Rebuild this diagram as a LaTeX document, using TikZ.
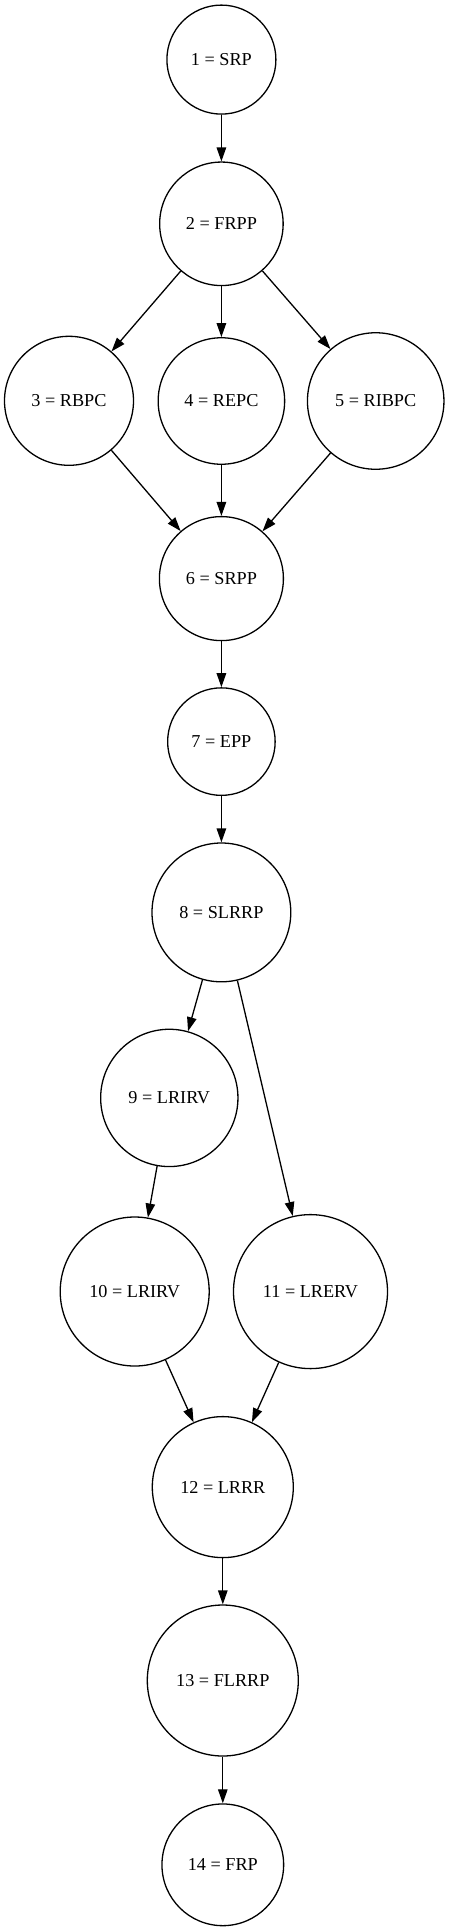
\documentclass[tikz,border=0pt]{standalone}
\usepackage{fontspec}
\setmainfont{Liberation Serif}
\usetikzlibrary{arrows.meta}
\begin{document}
\begin{tikzpicture}[x=1pt,y=-1pt,
  st/.style={draw=black,circle,line width=1.3pt,inner sep=0pt,
    font=\fontsize{18.2}{20}\selectfont},
  ed/.style={line width=1.3pt,-{Triangle[length=14pt,width=9.5pt]},shorten >=0pt}]
\useasboundingbox[fill=white] (0,0) rectangle (449,1931);
\node[st,minimum size=109pt]   (n1)  at (221.4,59.6)   {1 = SRP};
\node[st,minimum size=123.5pt] (n2)  at (221.4,223.8)  {2 = FRPP};
\node[st,minimum size=129pt]   (n3)  at (69,400.8)     {3 = RBPC};
\node[st,minimum size=126.5pt] (n4)  at (221.4,401)    {4 = REPC};
\node[st,minimum size=136.5pt] (n5)  at (375.7,401)    {5 = RIBPC};
\node[st,minimum size=124pt]   (n6)  at (221.4,578.6)  {6 = SRPP};
\node[st,minimum size=107.5pt] (n7)  at (221.4,741.6)  {7 = EPP};
\node[st,minimum size=138.8pt] (n8)  at (221.4,912.4)  {8 = SLRRP};
\node[st,minimum size=137.3pt] (n9)  at (169.3,1097.9) {9 = LRIRV};
\node[st,minimum size=149pt]   (n10) at (134.7,1291.5) {10 = LRIRV};
\node[st,minimum size=154pt]   (n11) at (310.5,1291.6) {11 = LRERV};
\node[st,minimum size=141pt]   (n12) at (222.8,1487.1) {12 = LRRR};
\node[st,minimum size=151pt]   (n13) at (222.8,1680.5) {13 = FLRRP};
\node[st,minimum size=121.7pt] (n14) at (222.8,1864.8) {14 = FRP};
\draw[ed] (n1) -- (n2);
\draw[ed] (n2) -- (n3);
\draw[ed] (n2) -- (n4);
\draw[ed] (n2) -- (n5);
\draw[ed] (n3) -- (n6);
\draw[ed] (n4) -- (n6);
\draw[ed] (n5) -- (n6);
\draw[ed] (n6) -- (n7);
\draw[ed] (n7) -- (n8);
\draw[ed] (n8) -- (n9);
\draw[ed] (n8) -- (n11);
\draw[ed] (n9) -- (n10);
\draw[ed] (n10) -- (n12);
\draw[ed] (n11) -- (n12);
\draw[ed] (n12) -- (n13);
\draw[ed] (n13) -- (n14);
\end{tikzpicture}
\end{document}
